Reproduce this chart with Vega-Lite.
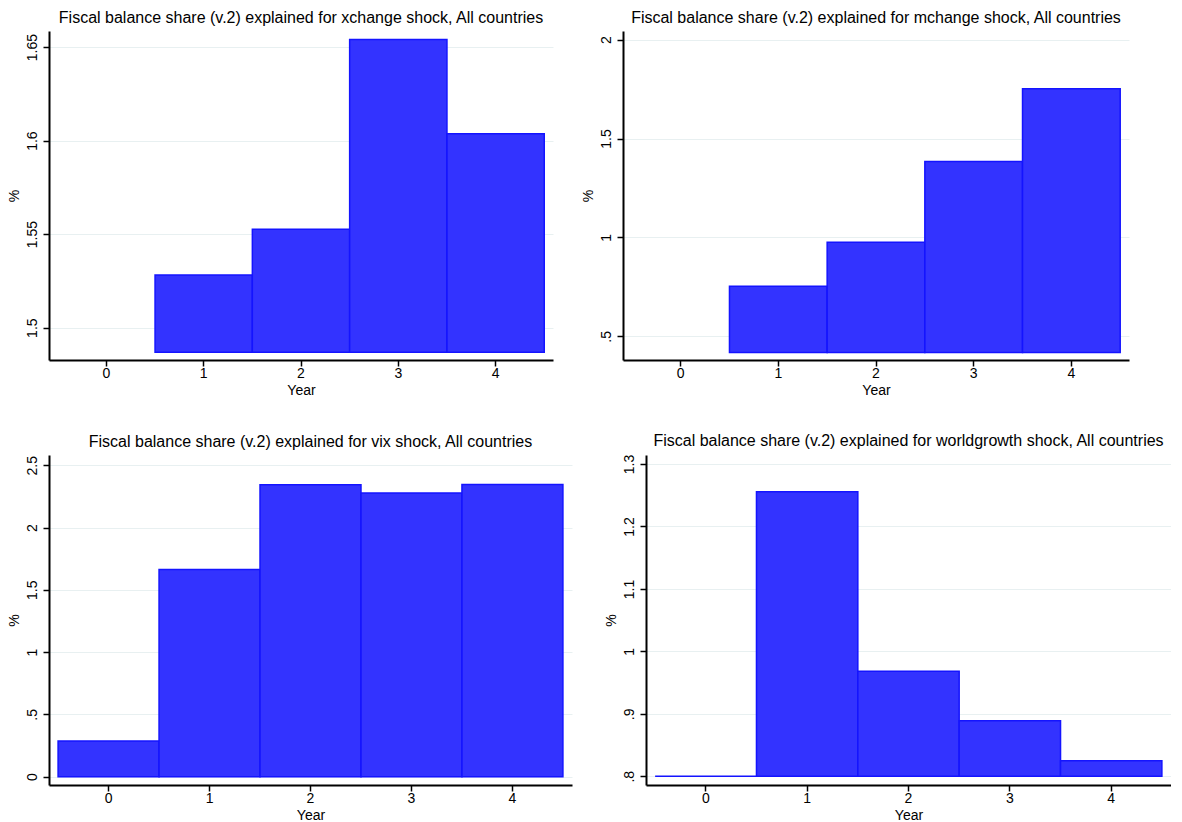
{
  "$schema": "https://vega.github.io/schema/vega-lite/v6.json",
  "background": "white",
  "padding": {"left": 7, "top": 10, "right": 0, "bottom": 0},
  "config": {
    "font": "Liberation Sans",
    "view": {"stroke": null},
    "title": {"fontSize": 16, "fontWeight": "normal", "color": "#000000", "anchor": "middle", "frame": "group", "baseline": "alphabetic", "offset": 5},
    "axis": {"labelFontSize": 14, "titleFontSize": 14, "titleFontWeight": "normal", "labelColor": "#000000", "titleColor": "#000000", "domainColor": "#000000", "domainWidth": 2, "tickColor": "#000000", "tickWidth": 1.5, "tickSize": 6, "gridColor": "#e8f0f1", "gridWidth": 1},
    "axisX": {"grid": false, "labelAngle": 0, "labelPadding": 0, "titlePadding": 3},
    "axisY": {"grid": true, "labelAngle": -90, "labelPadding": 4, "titlePadding": 4, "format": ".3~f", "labelExpr": "datum.value > 0 && datum.value < 1 ? substring(datum.label, 1) : datum.label"},
    "bar": {"fill": "#3333ff", "stroke": "#1414ff", "strokeWidth": 1.5}
  },
  "datasets": {
    "fevd": [
      {"shock": "xchange", "year": 1, "value": 1.5282},
      {"shock": "xchange", "year": 2, "value": 1.5526},
      {"shock": "xchange", "year": 3, "value": 1.654},
      {"shock": "xchange", "year": 4, "value": 1.6037},
      {"shock": "mchange", "year": 1, "value": 0.753},
      {"shock": "mchange", "year": 2, "value": 0.976},
      {"shock": "mchange", "year": 3, "value": 1.384},
      {"shock": "mchange", "year": 4, "value": 1.752},
      {"shock": "vix", "year": 0, "value": 0.286},
      {"shock": "vix", "year": 1, "value": 1.662},
      {"shock": "vix", "year": 2, "value": 2.344},
      {"shock": "vix", "year": 3, "value": 2.277},
      {"shock": "vix", "year": 4, "value": 2.345},
      {"shock": "worldgrowth", "year": 0, "value": 0.8},
      {"shock": "worldgrowth", "year": 1, "value": 1.2555},
      {"shock": "worldgrowth", "year": 2, "value": 0.968},
      {"shock": "worldgrowth", "year": 3, "value": 0.889},
      {"shock": "worldgrowth", "year": 4, "value": 0.825}
    ]
  },
  "spacing": 36,
  "vconcat": [
    {
      "bounds": "flush",
      "spacing": 70,
      "hconcat": [
        {
          "width": 504, "height": 329,
          "title": "Fiscal balance share (v.2) explained for xchange shock, All countries",
          "data": {"name": "fevd"},
          "transform": [{"filter": "datum.shock == 'xchange'"}],
          "mark": {"type": "bar"},
          "encoding": {
            "x": {"field": "year", "type": "ordinal", "title": "Year", "scale": {"domain": [0, 1, 2, 3, 4], "paddingInner": 0, "paddingOuter": 0.09}},
            "y": {"field": "value", "type": "quantitative", "title": "%", "scale": {"domain": [1.4827, 1.6586], "nice": false, "zero": false}, "axis": {"values": [1.5, 1.55, 1.6, 1.65]}},
            "y2": {"datum": 1.4868}
          }
        },
        {
          "width": 506, "height": 329,
          "title": "Fiscal balance share (v.2) explained for mchange shock, All countries",
          "data": {"name": "fevd"},
          "transform": [{"filter": "datum.shock == 'mchange'"}],
          "mark": {"type": "bar"},
          "encoding": {
            "x": {"field": "year", "type": "ordinal", "title": "Year", "scale": {"domain": [0, 1, 2, 3, 4], "paddingInner": 0, "paddingOuter": 0.09}},
            "y": {"field": "value", "type": "quantitative", "title": "%", "scale": {"domain": [0.3806, 2.0435], "nice": false, "zero": false}, "axis": {"values": [0.5, 1, 1.5, 2]}},
            "y2": {"datum": 0.419}
          }
        }
      ]
    },
    {
      "bounds": "flush",
      "spacing": 74,
      "hconcat": [
        {
          "width": 523, "height": 330,
          "title": "Fiscal balance share (v.2) explained for vix shock, All countries",
          "data": {"name": "fevd"},
          "transform": [{"filter": "datum.shock == 'vix'"}],
          "mark": {"type": "bar"},
          "encoding": {
            "x": {"field": "year", "type": "ordinal", "title": "Year", "scale": {"domain": [0, 1, 2, 3, 4], "paddingInner": 0, "paddingOuter": 0.09}},
            "y": {"field": "value", "type": "quantitative", "title": "%", "scale": {"domain": [-0.067, 2.582], "nice": false, "zero": false}, "axis": {"values": [0, 0.5, 1, 1.5, 2, 2.5]}},
            "y2": {"datum": 0}
          }
        },
        {
          "width": 525, "height": 330,
          "title": "Fiscal balance share (v.2) explained for worldgrowth shock, All countries",
          "data": {"name": "fevd"},
          "transform": [{"filter": "datum.shock == 'worldgrowth'"}],
          "mark": {"type": "bar"},
          "encoding": {
            "x": {"field": "year", "type": "ordinal", "title": "Year", "scale": {"domain": [0, 1, 2, 3, 4], "paddingInner": 0, "paddingOuter": 0.09}},
            "y": {"field": "value", "type": "quantitative", "title": "%", "scale": {"domain": [0.786, 1.3145], "nice": false, "zero": false}, "axis": {"values": [0.8, 0.9, 1, 1.1, 1.2, 1.3]}},
            "y2": {"datum": 0.8}
          }
        }
      ]
    }
  ]
}
